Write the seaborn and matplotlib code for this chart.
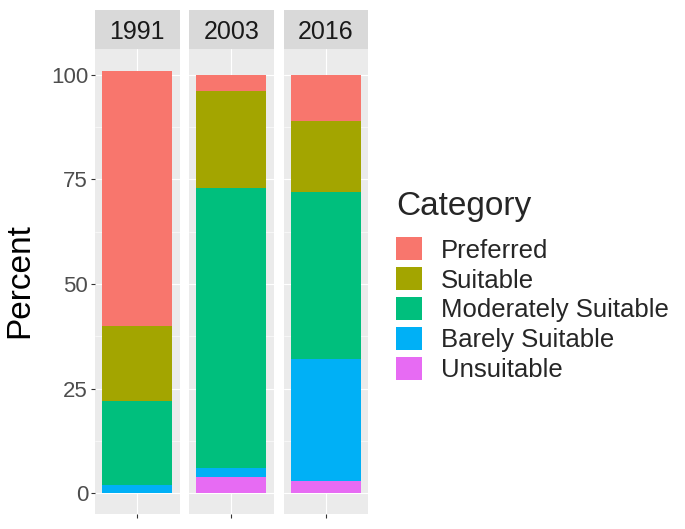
import numpy as np
import pandas as pd
import matplotlib
matplotlib.use("Agg")
import matplotlib.pyplot as plt
from matplotlib.patches import Patch
import seaborn as sns

# data (percent of area per category)
years = ["1991", "2003", "2016"]
categories = ["Preferred", "Suitable", "Moderately Suitable", "Barely Suitable", "Unsuitable"]
preferred = [61, 4, 11]
suitable = [18, 23, 17]
moderately = [20, 67, 40]
barely = [2, 2, 29]
unsuitable = [0, 4, 3]
colors = ["#F8766D", "#A3A500", "#00BF7D", "#00B0F6", "#E76BF3"]

sns.set_theme(style="white")
plt.rcParams["font.family"] = ["Liberation Sans", "DejaVu Sans"]

values = [preferred, suitable, moderately, barely, unsuitable]
rows = []
for c, vals in zip(categories, values):
    for y, v in zip(years, vals):
        rows.append({"Year": y, "Category": c, "Percent": v})
df = pd.DataFrame(rows)

# stack from bottom (Unsuitable) up; top of each segment = cumulative sum
df["Category"] = pd.Categorical(df["Category"], categories=categories, ordered=True)
df = df.sort_values(["Year", "Category"], ascending=[True, False])
df["Top"] = df.groupby("Year")["Percent"].cumsum()

W, H = 685, 529
fig = plt.figure(figsize=(W / 100, H / 100), dpi=100)


def box(x0, y0, x1, y1):
    return [x0 / W, 1 - y1 / H, (x1 - x0) / W, (y1 - y0) / H]


panel_left = [95, 189, 283.5]
panel_w = 84.5
top_px, bot_px = 49.4, 514.4

for i, yr in enumerate(years):
    x0 = panel_left[i]
    ax = fig.add_axes(box(x0, top_px, x0 + panel_w, bot_px))
    ax.set_facecolor("#EBEBEB")
    sub = df[df["Year"] == yr]
    # draw tallest (cumulative) first, then smaller ones over it
    for c, col in zip(categories, colors):
        seg = sub[sub["Category"] == c]
        sns.barplot(data=seg, x="Year", y="Top", color=col, width=1.0,
                    errorbar=None, ax=ax, saturation=1, linewidth=0)
    ax.set_xlim(-0.6, 0.6)
    ax.set_ylim(-5.05, 106.05)
    ax.set_yticks([0, 25, 50, 75, 100])
    ax.set_yticks([12.5, 37.5, 62.5, 87.5], minor=True)
    ax.set_xticks([0])
    ax.set_xticklabels([""])
    ax.set_axisbelow(True)
    ax.grid(which="major", color="white", linewidth=0.8)
    ax.grid(which="minor", axis="y", color="white", linewidth=0.4)
    for s in ax.spines.values():
        s.set_visible(False)
    ax.tick_params(which="major", length=3, width=0.8, color="#333333",
                   labelsize=16, labelcolor="#4D4D4D", pad=2,
                   left=True, bottom=True)
    ax.tick_params(which="minor", length=0)
    if i > 0:
        ax.set_yticklabels([])
        ax.tick_params(axis="y", left=False)
    ax.set_xlabel("")
    ax.set_ylabel("")

    sax = fig.add_axes(box(x0, 10, x0 + panel_w, top_px))
    sax.set_facecolor("#D9D9D9")
    sax.set_xticks([])
    sax.set_yticks([])
    for s in sax.spines.values():
        s.set_visible(False)
    sax.text(0.5, 0.45, yr, ha="center", va="center", fontsize=18,
             color="#1A1A1A", transform=sax.transAxes)

fig.text(20 / W, 1 - 281 / H, "Percent", rotation=90, fontsize=24,
         ha="center", va="center", color="black")

handles = [Patch(facecolor=c, edgecolor="none") for c in colors]
leg = fig.legend(handles, categories, title="Category", loc="upper left",
                 bbox_to_anchor=(396 / W, 1 - 191 / H), frameon=False,
                 fontsize=18.5, title_fontsize=24, handlelength=1.0,
                 handleheight=1.0, handletextpad=0.75, labelspacing=0.18,
                 borderaxespad=0, borderpad=0, alignment="left")
leg._legend_box.sep = 11  # gap between title and keys

fig.savefig("out.png", dpi=100)
